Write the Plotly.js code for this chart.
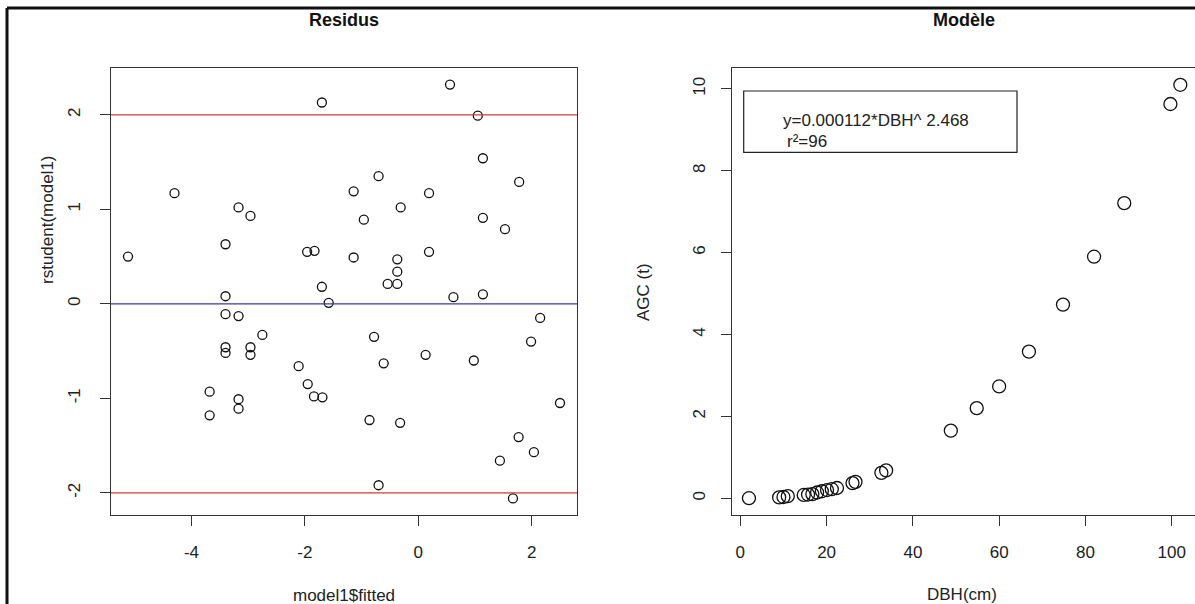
<!DOCTYPE html>
<html>
<head>
<meta charset="utf-8">
<script src="https://cdn.plot.ly/plotly-3.0.1.min.js"></script>
<style>html,body{margin:0;padding:0;background:#fff;}#chart{width:1195px;height:604px;}</style>
</head>
<body>
<div id="chart"></div>
<script>
// Left panel: studentized residuals vs fitted values
const fitted = [-5.12,-4.30,-3.68,-3.68,-3.40,-3.40,-3.40,-3.40,-3.40,-3.17,-3.17,-3.17,-3.17,-2.96,-2.96,-2.96,-2.75,-2.11,-1.96,-1.95,-1.84,-1.83,-1.70,-1.70,-1.69,-1.58,-1.14,-1.14,-0.96,-0.86,-0.78,-0.70,-0.70,-0.61,-0.54,-0.37,-0.37,-0.37,-0.32,-0.31,0.13,0.19,0.19,0.56,0.62,0.98,1.05,1.14,1.14,1.14,1.44,1.53,1.67,1.77,1.78,1.99,2.04,2.15,2.50];
const rstudent = [0.50,1.17,-0.93,-1.18,0.63,0.08,-0.11,-0.46,-0.52,1.02,-0.13,-1.01,-1.11,0.93,-0.46,-0.54,-0.33,-0.66,0.55,-0.85,-0.98,0.56,2.13,0.18,-0.99,0.01,1.19,0.49,0.89,-1.23,-0.35,1.35,-1.92,-0.63,0.21,0.47,0.34,0.21,-1.26,1.02,-0.54,1.17,0.55,2.32,0.07,-0.60,1.99,1.54,0.91,0.10,-1.66,0.79,-2.06,-1.41,1.29,-0.40,-1.57,-0.15,-1.05];
const refLines = [2, 0, -2];
const refColors = ['#d63a3a', '#3a3aa8', '#d63a3a'];
const leftXTicks = [-4, -2, 0, 2];
const leftXLabels = ['-4', '-2', '0', '2'];
const leftYTicks = [-2, -1, 0, 1, 2];
const leftYLabels = ['-2', '-1', '0', '1', '2'];

// Right panel: AGC vs DBH
const dbh = [2.0,9.0,10.0,11.0,14.7,15.7,16.7,17.8,18.9,20.1,21.2,22.4,26.0,26.7,32.7,33.8,48.8,54.8,60.0,66.9,74.8,82.0,89.0,99.7,102.0];
const agc = [0.00,0.02,0.03,0.05,0.08,0.09,0.10,0.14,0.17,0.20,0.22,0.25,0.37,0.40,0.62,0.68,1.65,2.20,2.73,3.58,4.73,5.90,7.21,9.63,10.10];
const rightXTicks = [0, 20, 40, 60, 80, 100];
const rightYTicks = [0, 2, 4, 6, 8, 10];

const W = 1195, H = 604;
const px = v => v / W;
const py = v => 1 - v / H;

const FONT = 'Liberation Sans, Arial, sans-serif';

const traces = [
  {x: fitted, y: rstudent, type: 'scatter', mode: 'markers', xaxis: 'x', yaxis: 'y',
   marker: {symbol: 'circle-open', size: 9, color: '#111', line: {width: 1.3, color: '#111'}}, hoverinfo: 'x+y'},
  {x: dbh, y: agc, type: 'scatter', mode: 'markers', xaxis: 'x2', yaxis: 'y2',
   marker: {symbol: 'circle-open', size: 13, color: '#111', line: {width: 1.3, color: '#111'}}, hoverinfo: 'x+y'}
];

const axBase = {
  showgrid: false, zeroline: false, showline: true, mirror: true, linecolor: '#333', linewidth: 1.2,
  ticks: 'outside', ticklen: 10, tickcolor: '#333', tickwidth: 1.2,
  tickfont: {family: FONT, size: 17, color: '#222'}, fixedrange: true
};

const shapes = [];
refLines.forEach((v, i) => {
  shapes.push({type: 'line', xref: 'x domain', yref: 'y', x0: 0, x1: 1, y0: v, y1: v,
               line: {color: refColors[i], width: 1.2}});
});
// legend box in right panel
shapes.push({type: 'rect', xref: 'paper', yref: 'paper', x0: px(743.7), x1: px(1017), y0: py(152.3), y1: py(91),
             line: {color: '#222', width: 1.2}, fillcolor: 'rgba(0,0,0,0)'});
// outer frame
shapes.push({type: 'line', xref: 'paper', yref: 'paper', x0: px(7), x1: px(7), y0: 0, y1: py(8), line: {color: '#111', width: 3}});
shapes.push({type: 'line', xref: 'paper', yref: 'paper', x0: px(7), x1: 1, y0: py(8), y1: py(8), line: {color: '#111', width: 3}});

const ann = (text, x, y, opts) => Object.assign({text, x: px(x), y: py(y), xref: 'paper', yref: 'paper',
  showarrow: false, xanchor: 'center', yanchor: 'middle', font: {family: FONT, size: 17, color: '#222'}}, opts || {});

const annotations = [
  ann('<b>Residus</b>', 344, 20, {font: {family: FONT, size: 18, color: '#111'}}),
  ann('<b>Modèle</b>', 964, 20, {font: {family: FONT, size: 18, color: '#111'}}),
  ann('model1$fitted', 344, 595),
  ann('DBH(cm)', 962, 594),
  ann('rstudent(model1)', 48, 220, {textangle: -90}),
  ann('AGC (t)', 643, 292, {textangle: -90}),
  ann('y=0.000112*DBH^ 2.468', 781, 120, {xanchor: 'left', font: {family: FONT, size: 17, color: '#222'}}),
  ann('r²=96', 785, 141, {xanchor: 'left', font: {family: FONT, size: 17, color: '#222'}})
];

const layout = {
  width: W, height: H, margin: {l: 0, r: 0, t: 0, b: 0},
  paper_bgcolor: '#fff', plot_bgcolor: '#fff', showlegend: false,
  font: {family: FONT},
  xaxis: Object.assign({}, axBase, {domain: [px(111), px(577)], range: [-5.42, 2.80], tickvals: leftXTicks, ticktext: leftXLabels, anchor: 'y', ticklabelstandoff: 11}),
  yaxis: Object.assign({}, axBase, {domain: [py(515), py(68)], range: [-2.235, 2.495], tickvals: leftYTicks, ticktext: leftYLabels, tickangle: -90, anchor: 'x', ticklabelstandoff: 13}),
  xaxis2: Object.assign({}, axBase, {domain: [px(731.7), 1], range: [-2, 105.4], tickvals: rightXTicks, anchor: 'y2', ticklabelstandoff: 11}),
  yaxis2: Object.assign({}, axBase, {domain: [py(515), py(68)], range: [-0.41, 10.51], tickvals: rightYTicks, tickangle: -90, anchor: 'x2', ticklabelstandoff: 9}),
  shapes, annotations
};

Plotly.newPlot('chart', traces, layout, {displayModeBar: false, staticPlot: true});
</script>
</body>
</html>
